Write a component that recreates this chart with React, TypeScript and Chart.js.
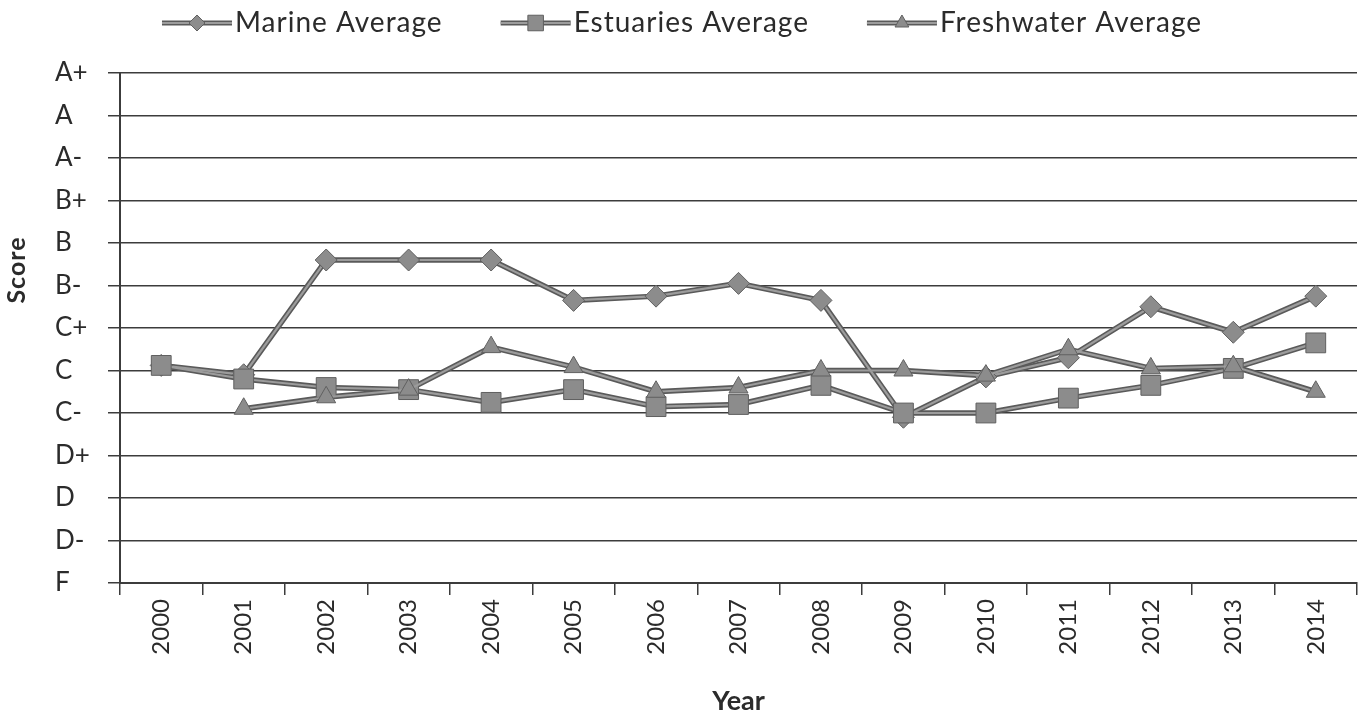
import React, { useEffect, useRef } from "react";
import { Chart, registerables } from "chart.js";

Chart.register(...registerables);

const years = ["2000", "2001", "2002", "2003", "2004", "2005", "2006", "2007", "2008", "2009", "2010", "2011", "2012", "2013", "2014"];
const gradeLabels = ["F", "D-", "D", "D+", "C-", "C", "C+", "B-", "B", "B+", "A-", "A", "A+"];
const marine = [5.12, 4.9, 7.6, 7.6, 7.6, 6.65, 6.75, 7.05, 6.65, 3.9, 4.85, 5.3, 6.5, 5.9, 6.75];
const estuaries = [5.12, 4.8, 4.6, 4.55, 4.25, 4.55, 4.15, 4.2, 4.65, 4.0, 4.0, 4.35, 4.65, 5.05, 5.65];
const freshwater = [null, 4.1, 4.37, 4.55, 5.55, 5.08, 4.5, 4.6, 5.0, 5.0, 4.88, 5.5, 5.05, 5.1, 4.5];
const seriesNames = ["Marine Average", "Estuaries Average", "Freshwater Average"];
const xTitle = "Year";
const yTitle = "Score";

const DARK = "#5a5a5a";
const LIGHT = "#9c9c9c";
const MARK_FILL = "#8c8c8c";
const MARK_EDGE = "#606060";
const GRID = "#3c3c3c";
const TEXT = "#2b2b2b";
const FONT = "Lato, 'Open Sans', sans-serif";

const styles = [
  { pointStyle: "rectRot", radius: 11 },
  { pointStyle: "rect", radius: 14 },
  { pointStyle: "triangle", radius: 11 },
];

function drawMarker(ctx: CanvasRenderingContext2D, kind: string, x: number, y: number, r: number) {
  ctx.beginPath();
  if (kind === "rectRot") {
    ctx.moveTo(x, y - r);
    ctx.lineTo(x + r, y);
    ctx.lineTo(x, y + r);
    ctx.lineTo(x - r, y);
  } else if (kind === "rect") {
    const s = r * Math.SQRT1_2;
    ctx.rect(x - s, y - s, 2 * s, 2 * s);
  } else {
    ctx.moveTo(x, y - r);
    ctx.lineTo(x + r * 0.866, y + r * 0.5);
    ctx.lineTo(x - r * 0.866, y + r * 0.5);
  }
  ctx.closePath();
  ctx.fillStyle = MARK_FILL;
  ctx.fill();
  ctx.lineWidth = 1;
  ctx.strokeStyle = MARK_EDGE;
  ctx.stroke();
}

const legendPlugin = {
  id: "excelLegend",
  afterDraw(chart: any) {
    const ctx: any = chart.ctx;
    ctx.save();
    // legend
    ctx.font = `28px ${FONT}`;
    if ("letterSpacing" in ctx) ctx.letterSpacing = "1px";
    const iconW = 70;
    const gapIcon = 3;
    const gapItem = 58;
    const widths = seriesNames.map((n) => iconW + gapIcon + ctx.measureText(n).width);
    const total = widths.reduce((a, b) => a + b, 0) + gapItem * (seriesNames.length - 1);
    let x = 682 - total / 2;
    const y = 23;
    seriesNames.forEach((name, i) => {
      ctx.beginPath();
      ctx.moveTo(x, y);
      ctx.lineTo(x + iconW, y);
      ctx.strokeStyle = DARK;
      ctx.lineWidth = 5;
      ctx.stroke();
      ctx.beginPath();
      ctx.moveTo(x, y);
      ctx.lineTo(x + iconW, y);
      ctx.strokeStyle = LIGHT;
      ctx.lineWidth = 2.2;
      ctx.stroke();
      drawMarker(ctx, styles[i].pointStyle, x + iconW / 2, y, styles[i].pointStyle === "rect" ? 11 : 8);
      ctx.fillStyle = TEXT;
      ctx.textAlign = "left";
      ctx.textBaseline = "middle";
      ctx.fillText(name, x + iconW + gapIcon, y);
      x += widths[i] + gapItem;
    });
    // y-axis title
    if ("letterSpacing" in ctx) ctx.letterSpacing = "1px";
    ctx.font = `bold 25px ${FONT}`;
    ctx.translate(17, 270);
    ctx.rotate(-Math.PI / 2);
    ctx.textAlign = "center";
    ctx.textBaseline = "middle";
    ctx.fillStyle = TEXT;
    ctx.fillText(yTitle, 0, 0);
    ctx.restore();
  },
};

export default function App() {
  const canvasRef = useRef<HTMLCanvasElement | null>(null);

  useEffect(() => {
    document.body.style.margin = "0";
    const canvas = canvasRef.current;
    if (!canvas) return;
    const seriesData = [marine, estuaries, freshwater];
    const datasets: any[] = [];
    seriesData.forEach((d, i) => {
      datasets.push({
        label: seriesNames[i] + " outline",
        data: d,
        borderColor: DARK,
        borderWidth: 5.5,
        pointRadius: 0,
        pointHoverRadius: 0,
        fill: false,
        tension: 0,
        order: 10 + i,
      });
    });
    seriesData.forEach((d, i) => {
      datasets.push({
        label: seriesNames[i],
        data: d,
        borderColor: LIGHT,
        borderWidth: 2.2,
        pointStyle: styles[i].pointStyle,
        pointRadius: styles[i].radius,
        pointBackgroundColor: MARK_FILL,
        pointBorderColor: MARK_EDGE,
        pointBorderWidth: 1,
        fill: false,
        tension: 0,
        order: 3 - i,
      });
    });

    const chart = new Chart(canvas, {
      type: "line",
      data: { labels: years, datasets },
      plugins: [legendPlugin],
      options: {
        responsive: false,
        animation: false,
        events: [],
        layout: { padding: { top: 73, right: 4, left: 55, bottom: 0 } },
        plugins: {
          legend: { display: false },
          tooltip: { enabled: false },
        },
        scales: {
          x: {
            type: "category",
            offset: true,
            grid: {
              offset: true,
              drawOnChartArea: false,
              drawTicks: true,
              tickLength: 12,
              color: GRID,
              lineWidth: 1.5,
            },
            border: { display: true, color: GRID, width: 2 },
            ticks: {
              minRotation: 90,
              maxRotation: 90,
              autoSkip: false,
              padding: 4,
              color: TEXT,
              font: { family: FONT, size: 24 },
            },
            title: {
              display: true,
              text: xTitle,
              color: TEXT,
              font: { family: FONT, size: 27, weight: "bold" },
              padding: { top: 0, bottom: -2 },
            },
            afterFit: (scale: any) => {
              scale.height = 132;
            },
          },
          y: {
            type: "linear",
            min: 0,
            max: 12,
            grid: {
              color: GRID,
              lineWidth: 1.5,
              drawTicks: true,
              tickLength: 12,
            },
            border: { display: true, color: GRID, width: 2 },
            ticks: {
              stepSize: 1,
              autoSkip: false,
              crossAlign: "far",
              padding: 14,
              color: TEXT,
              font: { family: FONT, size: 26 },
              callback: (v: any) => gradeLabels[Number(v)] ?? "",
            },
            title: { display: false },
            afterFit: (scale: any) => {
              scale.width = 65;
            },
          },
        },
      },
    });
    return () => chart.destroy();
  }, []);

  return (
    <div style={{ width: 1372, height: 715, background: "#fff" }}>
      <canvas ref={canvasRef} width={1372} height={715} style={{ display: "block", width: 1372, height: 715 }} />
    </div>
  );
}
